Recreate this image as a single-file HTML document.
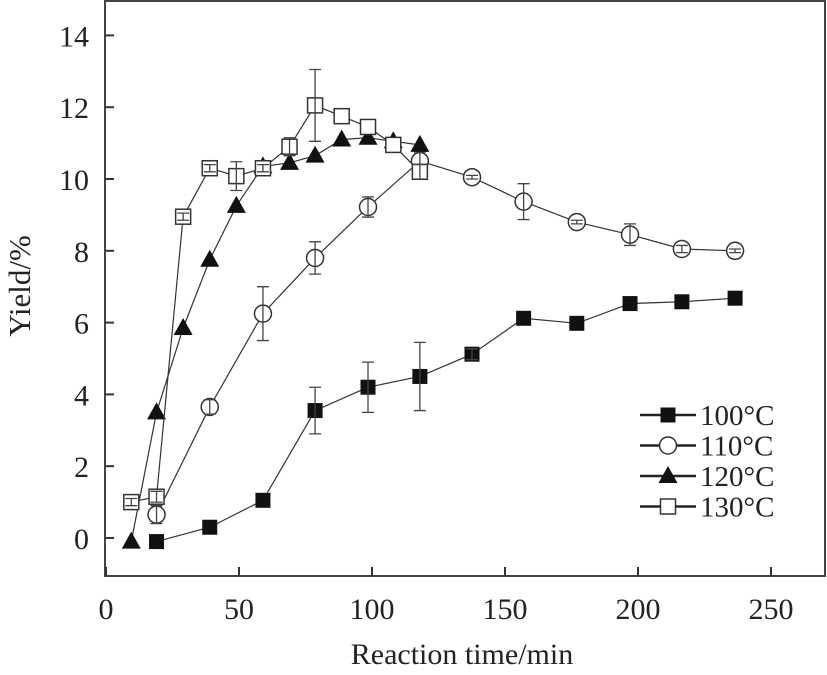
<!DOCTYPE html>
<html><head><meta charset="utf-8"><style>
body{margin:0;background:#fff}
svg{display:block}
text{font-family:"Liberation Serif",serif;fill:#222}
</style></head><body>
<svg id="chart" width="827" height="675">
<g id="axes"></g>
<g id="series"></g>
<g id="legend"></g>
<text x="462" y="664" font-size="30" text-anchor="middle">Reaction time/min</text>
<text transform="translate(30,286) rotate(-90)" font-size="31" text-anchor="middle">Yield/%</text>
</svg>
<script>
const xTicks=[0,50,100,150,200,250];
const yTicks=[0,2,4,6,8,10,12,14];
const seriesNames=["100°C","110°C","120°C","130°C"];
const t100=[19,39,59,78.6,98.5,118,137.6,157,177,197,216.5,236.5];
const y100=[-0.1,0.3,1.05,3.55,4.2,4.5,5.12,6.12,5.98,6.53,6.58,6.68];
const e100=[0,0,0,0.65,0.7,0.95,0.15,0,0,0,0,0];
const t110=[19,39,59,78.6,98.5,118,137.6,157,177,197,216.5,236.5];
const y110=[0.65,3.65,6.25,7.8,9.22,10.5,10.05,9.37,8.8,8.45,8.05,8.0];
const e110=[0.25,0.2,0.75,0.45,0.28,0.25,0.05,0.5,0.05,0.3,0.1,0.05];
const t120=[9.5,19,29,39,49,59,69,78.6,88.6,98.5,108,118];
const y120=[-0.1,3.5,5.85,7.75,9.25,10.35,10.45,10.65,11.1,11.15,11.05,10.95];
const e120=[0,0,0,0,0,0,0,0,0,0,0,0];
const t130=[9.5,19,29,39,49,59,69,78.6,88.6,98.5,108,118];
const y130=[1.0,1.15,8.95,10.3,10.08,10.3,10.9,12.05,11.75,11.45,10.95,10.2];
const e130=[0.1,0.15,0.1,0.1,0.4,0.1,0.25,1.0,0,0,0,0.2];
const NS="http://www.w3.org/2000/svg";
const X=v=>106+2.66*v, Y=v=>538-35.9*v;
function mk(tag,attrs,parent){const e=document.createElementNS(NS,tag);for(const k in attrs)e.setAttribute(k,attrs[k]);parent.appendChild(e);return e;}
const axes=document.getElementById('axes');
const frame=mk('rect',{x:105,y:1,width:720,height:575,fill:'none',stroke:'#444','stroke-width':2},axes);


xTicks.forEach(v=>{
 const l=mk('line',{x1:X(v),x2:X(v),y1:576,y2:567,stroke:'#333','stroke-width':2},axes);
 
 
 const t=mk('text',{x:X(v),y:619,'font-size':30,'text-anchor':'middle'},axes);t.textContent=v;
 
 
});
yTicks.forEach(v=>{
 const l=mk('line',{x1:105,x2:114,y1:Y(v),y2:Y(v),stroke:'#333','stroke-width':2},axes);
 
 
 const t=mk('text',{x:89,y:Y(v)+11,'font-size':30,'text-anchor':'end'},axes);t.textContent=v;
 
 
});
function marker(kind,cx,cy,g){
 let e;
 if(kind==='sq')e=mk('rect',{x:cx-7.5,y:cy-7.5,width:15,height:15,fill:'#111'},g);
 else if(kind==='osq')e=mk('rect',{x:cx-7.5,y:cy-7.5,width:15,height:15,fill:'#fff',stroke:'#333','stroke-width':1.5},g);
 else if(kind==='ci')e=mk('circle',{cx:cx,cy:cy,r:8.5,fill:'#fff',stroke:'#333','stroke-width':1.5},g);
 else e=mk('polygon',{points:`${cx},${cy-10} ${cx+9.5},${cy+7} ${cx-9.5},${cy+7}`,fill:'#111'},g);
 return e;
}
const kinds=['sq','ci','tri','osq'];
const data=[[t100,y100,e100],[t110,y110,e110],[t120,y120,e120],[t130,y130,e130]];
const sg=document.getElementById('series');
data.forEach((d,i)=>{
 const g=mk('g',{},sg);
 
 
 const pl=mk('polyline',{points:d[0].map((t,j)=>X(t)+','+Y(d[1][j])).join(' '),fill:'none',stroke:'#333','stroke-width':1.2},g);
 
 
 d[0].forEach((t,j)=>{
  const m=marker(kinds[i],X(t),Y(d[1][j]),g);
  
  
 });
 d[0].forEach((t,j)=>{
  const e=d[2][j];if(!e)return;
  const cx=X(t),a=Y(d[1][j]+e),b=Y(d[1][j]-e);
  const eb=mk('path',{d:`M${cx},${a}V${b}M${cx-6},${a}H${cx+6}M${cx-6},${b}H${cx+6}`,stroke:'#444','stroke-width':1.3,fill:'none'},g);
  
  
 });
});
const lg=document.getElementById('legend');
seriesNames.forEach((n,i)=>{
 const y=415+30.5*i;
 const g=mk('g',{},lg);
 
 
 mk('line',{x1:640,x2:696,y1:y,y2:y,stroke:'#222','stroke-width':2.5},g);
 marker(kinds[i],668,y,g);
 const t=mk('text',{x:700,y:y+10,'font-size':29},g);t.textContent=n;
});
</script>
</body></html>
